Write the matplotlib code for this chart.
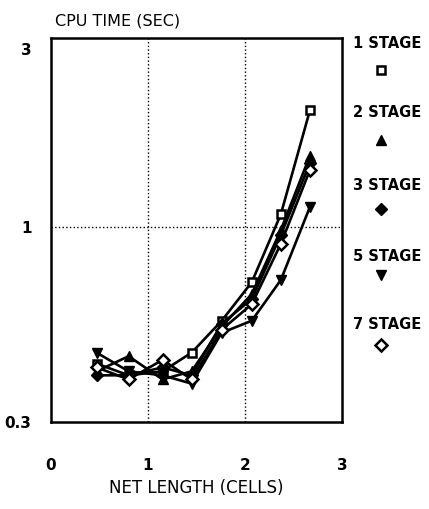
import numpy as np
import matplotlib.pyplot as plt
from matplotlib.lines import Line2D

# net length (cells)
net_length = [0.47, 0.8, 1.15, 1.45, 1.76, 2.07, 2.37, 2.67]
# cpu time (sec) per number of stages
stage1 = [0.43, 0.40, 0.41, 0.46, 0.56, 0.71, 1.08, 2.05]
stage2 = [0.41, 0.45, 0.39, 0.41, 0.54, 0.66, 0.98, 1.55]
stage3 = [0.40, 0.40, 0.42, 0.40, 0.55, 0.64, 0.95, 1.48]
stage5 = [0.46, 0.41, 0.40, 0.38, 0.52, 0.56, 0.72, 1.13]
stage7 = [0.42, 0.39, 0.44, 0.39, 0.53, 0.62, 0.90, 1.42]
labels = ["1 STAGE", "2 STAGE", "3 STAGE", "5 STAGE", "7 STAGE"]


def main():
    fig = plt.figure(figsize=(4.29, 5.09), dpi=100)
    ax = fig.add_axes([0.119, 0.171, 0.678, 0.754])

    styles = [
        dict(marker="s", mfc="white", mec="black", ms=6, mew=1.8),
        dict(marker="^", mfc="black", mec="black", ms=7),
        dict(marker="D", mfc="black", mec="black", ms=6.5),
        dict(marker="v", mfc="black", mec="black", ms=7),
        dict(marker="D", mfc="white", mec="black", ms=6, mew=1.8),
    ]
    series = [stage1, stage2, stage3, stage5, stage7]
    for ys, st in zip(series, styles):
        ax.plot(net_length, ys, color="black", lw=1.9, **st)

    ax.set_yscale("log")
    ax.set_xlim(0, 3)
    ax.set_ylim(0.3, 3.2)
    ax.set_xticks([0, 1, 2, 3])
    ax.set_xticklabels(["0", "1", "2", "3"])
    ax.set_yticks([0.3, 1, 3])
    ax.set_yticklabels(["0.3", "1", "3"])
    ax.yaxis.set_minor_locator(plt.NullLocator())
    ax.tick_params(length=0, labelsize=11)
    for lab in ax.get_xticklabels() + ax.get_yticklabels():
        lab.set_fontweight("bold")
    ax.tick_params(axis="y", pad=14)
    ax.tick_params(axis="x", pad=26)
    for s in ax.spines.values():
        s.set_linewidth(1.8)

    for xv in [1, 2]:
        ax.axvline(xv, color="black", ls=":", lw=1)
    ax.axhline(1, color="black", ls=":", lw=1)

    ax.set_xlabel("NET LENGTH (CELLS)", fontsize=12, labelpad=4)
    fig.text(0.128, 0.958, "CPU TIME (SEC)", fontsize=11.5, ha="left", va="center")

    # legend on the right
    text_y = [0.915, 0.778, 0.635, 0.497, 0.362]
    mark_y = [0.862, 0.725, 0.590, 0.459, 0.322]
    for lab, st, ty, my in zip(labels, styles, text_y, mark_y):
        fig.text(0.822, ty, lab, fontsize=10.5, fontweight="bold", ha="left", va="center")
        fig.add_artist(Line2D([0.888], [my], transform=fig.transFigure, ls="none", **st))

    plt.savefig("out.png", dpi=100)


if __name__ == "__main__":
    main()
